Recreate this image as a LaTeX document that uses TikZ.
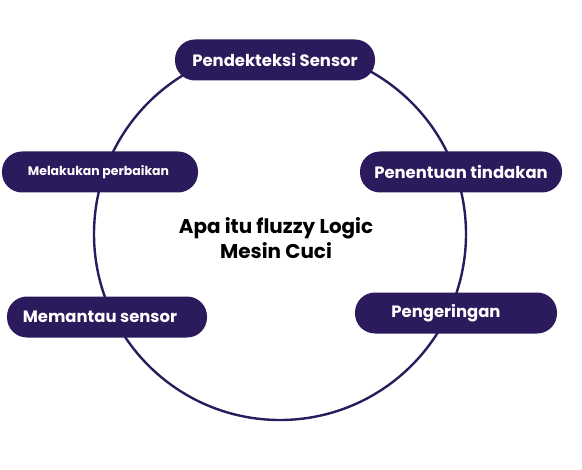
\documentclass[tikz,border=0pt]{standalone}
\usepackage{fontspec}
\setmainfont{Poppins}
\definecolor{deep}{HTML}{2B1A5C}
\tikzset{
  pill/.style={fill=deep, text=white, rounded corners=20bp, minimum height=41bp, inner sep=0pt, font=\bfseries\fontsize{16.5}{18}\selectfont},
  ring/.style={draw=deep, line width=2.4bp},
  title/.style={font=\bfseries\fontsize{20}{25}\selectfont, text=black, align=center}
}
\begin{document}
\begin{tikzpicture}[x=1bp,y=-1bp]
\useasboundingbox (0,0) rectangle (582,470);
\coordinate (c) at (280,234);
\draw[ring] (c) circle[radius=186bp];
\node[pill, minimum width=200bp] (det) at (275,60) {Pendekteksi Sensor};
\node[pill, minimum width=196bp, font=\bfseries\fontsize{12.5}{14}\selectfont] (fix) at (100,172) {Melakukan perbaikan\hspace*{3bp}};
\node[pill, minimum width=202bp] (act) at (461,172) {Penentuan tindakan};
\node[pill, minimum width=200bp] (mon) at (107,317) {Memantau sensor\hspace*{14bp}};
\node[pill, minimum width=202bp] (dry) at (456,313) {Pengeringan\hspace*{20bp}};
\node[title] (t) at (276,238) {Apa itu fluzzy Logic\\Mesin Cuci};
\end{tikzpicture}
\end{document}
